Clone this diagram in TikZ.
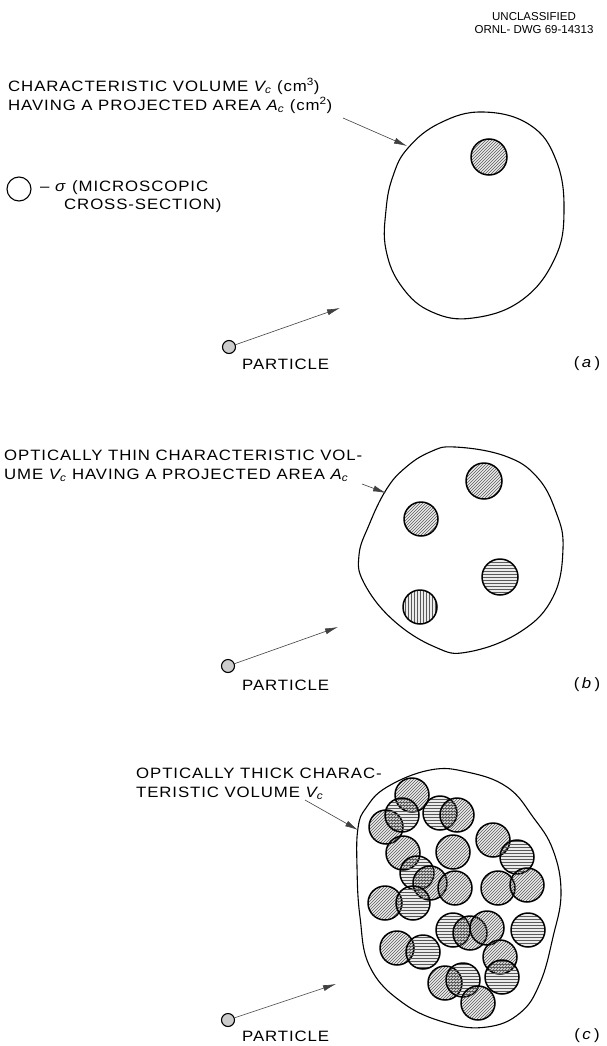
\documentclass[tikz,border=0pt]{standalone}
\usepackage{fontspec}
\setmainfont{Liberation Sans}[FakeStretch=1.12,LetterSpace=6]
\newfontfamily\hdrfont{Liberation Sans}
\usetikzlibrary{arrows.meta,patterns}
\begin{document}
\begin{tikzpicture}[x=1pt,y=-1pt,
  every node/.style={font=\fontsize{15}{19}\selectfont,inner sep=0pt},
  txt/.style={anchor=west,align=left},
  blob/.style={line width=1.1pt,line join=round},
  grain/.style={draw=black,line width=1.5pt,pattern color=black!65,preaction={fill=black,fill opacity=0.08}},
  pointer/.style={-{Latex[length=13pt,width=6pt]},line width=0.6pt,black!75},
  part/.style={circle,draw,line width=1.1pt,fill=gray!40,minimum size=13pt}]
\useasboundingbox (0,0) rectangle (607,1046);

% header
\node[font=\hdrfont\fontsize{11.5}{13.5}\selectfont,align=center] (hdr) at (534,23) {UNCLASSIFIED\\ORNL- DWG 69-14313};

% (a) one grain
\node[txt] (volA) at (8,96) {CHARACTERISTIC VOLUME \textit{V\textsubscript{c}} (cm\textsuperscript{3})\\HAVING A PROJECTED AREA \textit{A\textsubscript{c}} (cm\textsuperscript{2})};
\draw[blob] plot[smooth cycle,tension=0.7] coordinates {(408,148) (440,123) (483,112) (530,125) (556,160) (564,210) (555,258) (522,300) (473,318) (432,312) (402,287) (386,250) (386,210) (393,176)};
\coordinate (tailA) at (343,118);
\coordinate (hitA) at (407,146);
\draw[pointer] (tailA) -- (hitA);
\draw[grain,pattern=north east lines] (489,157) circle[radius=18];
\node[circle,draw,line width=1.1pt,minimum size=24pt] (sig) at (19,189) {};
\node[txt] (sigA) at (40,188) {-- \textit{σ} (MICROSCOPIC};
\node[txt] (sigB) at (64,206) {CROSS-SECTION)};
\node[part] (partA) at (229,347) {};
\coordinate (aimA) at (340,308);
\draw[pointer] (partA) -- (aimA);
\node[anchor=west] (nameA) at (242,364) {PARTICLE};
\node (tagA) at (587,364) {(\,\textit{a}\,)};

% (b) optically thin
\node[txt] (volB) at (4,466) {OPTICALLY THIN CHARACTERISTIC VOL-\\UME \textit{V\textsubscript{c}} HAVING A PROJECTED AREA \textit{A\textsubscript{c}}};
\draw[blob] plot[smooth cycle,tension=0.7] coordinates {(386,490) (405,468) (430,452) (455,447) (505,456) (537,477) (556,512) (563,548) (553,597) (520,632) (468,652) (435,647) (393,620) (364,583) (359,555) (369,525)};
\coordinate (tailB) at (362,484);
\coordinate (hitB) at (386,493);
\draw[pointer] (tailB) -- (hitB);
\draw[grain,pattern=north east lines] (484,481) circle[radius=18];
\draw[grain,pattern=north east lines] (421,519) circle[radius=17];
\draw[grain,pattern=horizontal lines] (500,577) circle[radius=18];
\draw[grain,pattern=vertical lines] (420,607) circle[radius=17];
\node[part] (partB) at (228,666) {};
\coordinate (aimB) at (338,627);
\draw[pointer] (partB) -- (aimB);
\node[anchor=west] (nameB) at (242,685) {PARTICLE};
\node (tagB) at (587,685) {(\,\textit{b}\,)};

% (c) optically thick
\node[txt] (volC) at (136,784) {OPTICALLY THICK CHARAC-\\TERISTIC VOLUME \textit{V\textsubscript{c}}};
\draw[blob] plot[smooth cycle,tension=0.7] coordinates {(358,828) (366,808) (387,787) (430,770) (467,772) (507,787) (533,817) (553,850) (561,893) (553,937) (540,983) (520,1013) (487,1027) (447,1023) (403,1003) (370,967) (360,917) (357,867)};
\coordinate (tailC) at (305,800);
\coordinate (hitC) at (358,830);
\draw[pointer] (tailC) -- (hitC);
\draw[grain,pattern=north east lines] (412,795) circle[radius=17];
\draw[grain,pattern=north east lines] (386,827) circle[radius=17];
\draw[grain,pattern=horizontal lines] (402,815) circle[radius=17];
\draw[grain,pattern=horizontal lines] (440,813) circle[radius=17];
\draw[grain,pattern=north east lines] (457,815) circle[radius=17];
\draw[grain,pattern=north east lines] (403,853) circle[radius=17];
\draw[grain,pattern=north east lines] (453,852) circle[radius=17];
\draw[grain,pattern=north east lines] (493,840) circle[radius=17];
\draw[grain,pattern=horizontal lines] (517,857) circle[radius=17];
\draw[grain,pattern=horizontal lines] (417,873) circle[radius=17];
\draw[grain,pattern=north east lines] (430,883) circle[radius=17];
\draw[grain,pattern=north east lines] (455,888) circle[radius=17];
\draw[grain,pattern=north east lines] (385,903) circle[radius=17];
\draw[grain,pattern=horizontal lines] (413,903) circle[radius=17];
\draw[grain,pattern=north east lines] (498,888) circle[radius=17];
\draw[grain,pattern=north east lines] (527,885) circle[radius=17];
\draw[grain,pattern=horizontal lines] (453,930) circle[radius=17];
\draw[grain,pattern=north east lines] (470,933) circle[radius=17];
\draw[grain,pattern=north east lines] (487,928) circle[radius=17];
\draw[grain,pattern=horizontal lines] (528,930) circle[radius=17];
\draw[grain,pattern=north east lines] (397,948) circle[radius=17];
\draw[grain,pattern=horizontal lines] (423,952) circle[radius=17];
\draw[grain,pattern=north east lines] (500,957) circle[radius=17];
\draw[grain,pattern=horizontal lines] (502,977) circle[radius=17];
\draw[grain,pattern=north east lines] (445,983) circle[radius=17];
\draw[grain,pattern=horizontal lines] (463,980) circle[radius=17];
\draw[grain,pattern=north east lines] (478,1003) circle[radius=17];
\node[part] (partC) at (228,1020) {};
\coordinate (aimC) at (336,984);
\draw[pointer] (partC) -- (aimC);
\node[anchor=west] (nameC) at (242,1036) {PARTICLE};
\node (tagC) at (587,1036) {(\,\textit{c}\,)};
\end{tikzpicture}
\end{document}
